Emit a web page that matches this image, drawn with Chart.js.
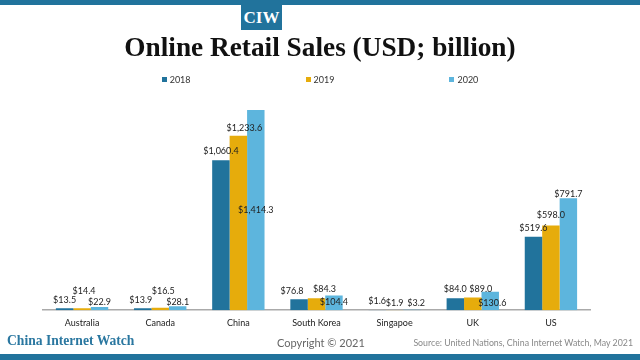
<!DOCTYPE html>
<html><head><meta charset="utf-8">
<script src="https://cdn.jsdelivr.net/npm/chart.js@4.4.0/dist/chart.umd.min.js"></script>
<style>
html,body{margin:0;padding:0;background:#fff;}
#wrap{position:relative;width:640px;height:360px;overflow:hidden;font-family:Lato,sans-serif;}
#c{position:absolute;left:0;top:0;}
.topbar{position:absolute;left:0;top:0;width:640px;height:5px;background:#21739c;}
.botbar{position:absolute;left:0;top:354px;width:640px;height:6px;background:#21739c;}
.ciw{position:absolute;left:241px;top:5px;width:41px;height:25px;background:#21739c;color:#fff;font:bold 17px/25px "Liberation Serif",serif;text-align:center;}
.title{position:absolute;left:0;top:32px;width:640px;text-align:center;font:bold 27.3px/30px "Liberation Serif",serif;color:#111;}
.legend{position:absolute;left:0;top:75px;width:640px;display:flex;justify-content:center;gap:115px;font:9px/10px Lato,sans-serif;color:#333;}
.legend span.box{display:inline-block;width:5px;height:5px;margin-right:3px;vertical-align:1px;}
.brand{position:absolute;left:7px;top:333px;font:bold 13.6px/16px "Liberation Serif",serif;color:#2a77a0;}
.copy{position:absolute;left:277px;top:336px;font:11px/14px Lato,sans-serif;color:#666;}
.src{position:absolute;right:7px;top:338px;font:8.8px/10px Lato,sans-serif;color:#888;}
</style>
</head><body>
<div id="wrap">
<canvas id="c" width="640" height="360"></canvas>
<div class="topbar"></div>
<div class="ciw">CIW</div>
<div class="title">Online Retail Sales (USD; billion)</div>
<div class="legend" id="legend"></div>
<div class="brand">China Internet Watch</div>
<div class="copy">Copyright © 2021</div>
<div class="src">Source: United Nations, China Internet Watch, May 2021</div>
<div class="botbar"></div>
</div>
<script>
const categories = ['Australia','Canada','China','South Korea','Singapoe','UK','US'];
const years = ['2018','2019','2020'];
const sales2018 = [13.5, 13.9, 1060.4, 76.8, 1.6, 84.0, 519.6];
const sales2019 = [14.4, 16.5, 1233.6, 84.3, 1.9, 89.0, 598.0];
const sales2020 = [22.9, 28.1, 1414.3, 104.4, 3.2, 130.6, 791.7];

const colors = ['#21739c', '#e6ac0c', '#5db5dd'];
const series = [sales2018, sales2019, sales2020];

// label placement tweaks (pixels relative to bar top / bar centre), as in the original
const labelDy = [
  [-8, -8, -9, -8, -9, -9, -9],
  [-17, -17, -8, -9, -7, -8.5, -11],
  [-5, -4, 100, 7, -6.5, 11, -4]
];
const labelDx = [
  [0, -2, 0, -7, 0, 0, 0],
  [2, 3, 6, 8, 0, 8, 0],
  [0, 0, 0, 0, 4, 2, 0]
];

const legendEl = document.getElementById('legend');
years.forEach((y, i) => {
  const d = document.createElement('div');
  d.innerHTML = '<span class="box" style="background:' + colors[i] + '"></span>' + y;
  legendEl.appendChild(d);
});

const fmt = v => '$' + v.toLocaleString('en-US', {minimumFractionDigits: 1, maximumFractionDigits: 1});

const labelPlugin = {
  id: 'barLabels',
  afterDatasetsDraw(chart) {
    const ctx = chart.ctx;
    ctx.save();
    ctx.font = '9px Lato, sans-serif';
    ctx.fillStyle = '#222';
    ctx.textAlign = 'center';
    ctx.textBaseline = 'middle';
    chart.data.datasets.forEach((ds, di) => {
      const meta = chart.getDatasetMeta(di);
      meta.data.forEach((bar, i) => {
        ctx.fillText(fmt(ds.data[i]), bar.x + labelDx[di][i], bar.y + labelDy[di][i]);
      });
    });
    ctx.restore();
  }
};

new Chart(document.getElementById('c'), {
  type: 'bar',
  data: {
    labels: categories,
    datasets: years.map((y, i) => ({
      label: y,
      data: series[i],
      backgroundColor: colors[i],
      borderWidth: 0,
      barPercentage: 1,
      categoryPercentage: 0.67
    }))
  },
  options: {
    responsive: false,
    animation: false,
    layout: {padding: {left: 43, right: 50, top: 98, bottom: 25}},
    scales: {
      x: {
        grid: {display: false, drawTicks: false},
        border: {display: true, color: '#aaa', width: 1.5},
        ticks: {font: {family: 'Lato', size: 9}, color: '#222', padding: 7}
      },
      y: {display: false, min: 0, max: 1500}
    },
    plugins: {legend: {display: false}, tooltip: {enabled: false}}
  },
  plugins: [labelPlugin]
});
</script>
</body></html>
